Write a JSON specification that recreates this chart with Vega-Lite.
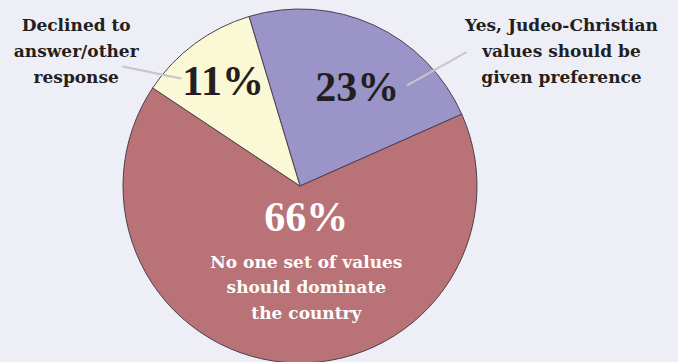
{
  "$schema": "https://vega.github.io/schema/vega-lite/v6.json",
  "width": 600,
  "height": 354,
  "autosize": {"type": "none"},
  "padding": {"left": 0, "top": 9, "right": 78, "bottom": 0},
  "background": "#eeeef7",
  "config": {"view": {"stroke": null}, "text": {"font": "Liberation Serif", "fontWeight": "bold"}},
  "data": {
    "values": [
      {"k": 1, "cat": "Yes, Judeo-Christian values should be given preference", "value": 23, "pct": "23%", "label": "Yes, Judeo-Christian\nvalues should be\ngiven preference"},
      {"k": 2, "cat": "No one set of values should dominate the country", "value": 66, "pct": "66%", "label": "No one set of values\nshould dominate\nthe country"},
      {"k": 3, "cat": "Declined to answer/other response", "value": 11, "pct": "11%", "label": "Declined to\nanswer/other\nresponse"}
    ]
  },
  "encoding": {
    "theta": {"field": "value", "type": "quantitative", "stack": true, "scale": {"range": [-0.292, 5.991]}},
    "order": {"field": "k", "type": "quantitative"},
    "detail": {"field": "cat", "type": "nominal"}
  },
  "layer": [
    {
      "mark": {"type": "arc", "stroke": "#4d3f4f", "strokeWidth": 1},
      "encoding": {
        "color": {
          "field": "cat", "type": "nominal", "legend": null,
          "scale": {
            "domain": ["Yes, Judeo-Christian values should be given preference", "No one set of values should dominate the country", "Declined to answer/other response"],
            "range": ["#9a94c9", "#b97276", "#fbf8d5"]
          }
        }
      }
    },
    {
      "mark": {"type": "text", "radius": 129, "fontSize": 42, "fill": "#231f20", "align": "center", "baseline": "middle"},
      "encoding": {"text": {"field": "pct"}, "opacity": {"condition": {"test": "datum.k === 3", "value": 1}, "value": 0}}
    },
    {
      "mark": {"type": "text", "radius": 113, "dx": 10, "dy": 5, "fontSize": 42, "fill": "#231f20", "align": "center", "baseline": "middle"},
      "encoding": {"text": {"field": "pct"}, "opacity": {"condition": {"test": "datum.k === 1", "value": 1}, "value": 0}}
    },
    {
      "mark": {"type": "text", "radius": 32, "dx": 9, "fontSize": 42, "fill": "#ffffff", "align": "center", "baseline": "middle"},
      "encoding": {"text": {"field": "pct"}, "opacity": {"condition": {"test": "datum.k === 2", "value": 1}, "value": 0}}
    },
    {
      "mark": {"type": "text", "font": "DejaVu Serif", "radius": 102, "dx": 15, "dy": -25, "fontSize": 17, "lineHeight": 25.5, "lineBreak": "\n", "fill": "#ffffff", "align": "center", "baseline": "middle"},
      "encoding": {"text": {"field": "label"}, "opacity": {"condition": {"test": "datum.k === 2", "value": 1}, "value": 0}}
    },
    {
      "mark": {"type": "text", "font": "DejaVu Serif", "radius": 260, "dx": -69, "dy": 49, "fontSize": 17, "lineHeight": 26, "lineBreak": "\n", "fill": "#231f20", "align": "center", "baseline": "middle"},
      "encoding": {"text": {"field": "label"}, "opacity": {"condition": {"test": "datum.k === 3", "value": 1}, "value": 0}}
    },
    {
      "mark": {"type": "text", "font": "DejaVu Serif", "radius": 200, "dx": 178, "dy": 22, "fontSize": 17, "lineHeight": 26, "lineBreak": "\n", "fill": "#231f20", "align": "center", "baseline": "middle"},
      "encoding": {"text": {"field": "label"}, "opacity": {"condition": {"test": "datum.k === 1", "value": 1}, "value": 0}}
    },
    {
      "mark": {"type": "text", "text": "─────", "font": "DejaVu Sans Mono", "fontWeight": "bold", "radius": 180, "angle": -29.2, "dx": 31.2, "dy": 71.2, "fontSize": 22.5, "fill": "#c6c6cc", "align": "center", "baseline": "middle"},
      "encoding": {"opacity": {"condition": {"test": "datum.k === 1", "value": 1}, "value": 0}}
    },
    {
      "mark": {"type": "text", "text": "────", "font": "DejaVu Sans Mono", "fontWeight": "bold", "radius": 150, "angle": 11.7, "dx": -56.4, "dy": 20.2, "fontSize": 24.6, "fill": "#c6c6cc", "align": "center", "baseline": "middle"},
      "encoding": {"opacity": {"condition": {"test": "datum.k === 3", "value": 1}, "value": 0}}
    }
  ]
}
